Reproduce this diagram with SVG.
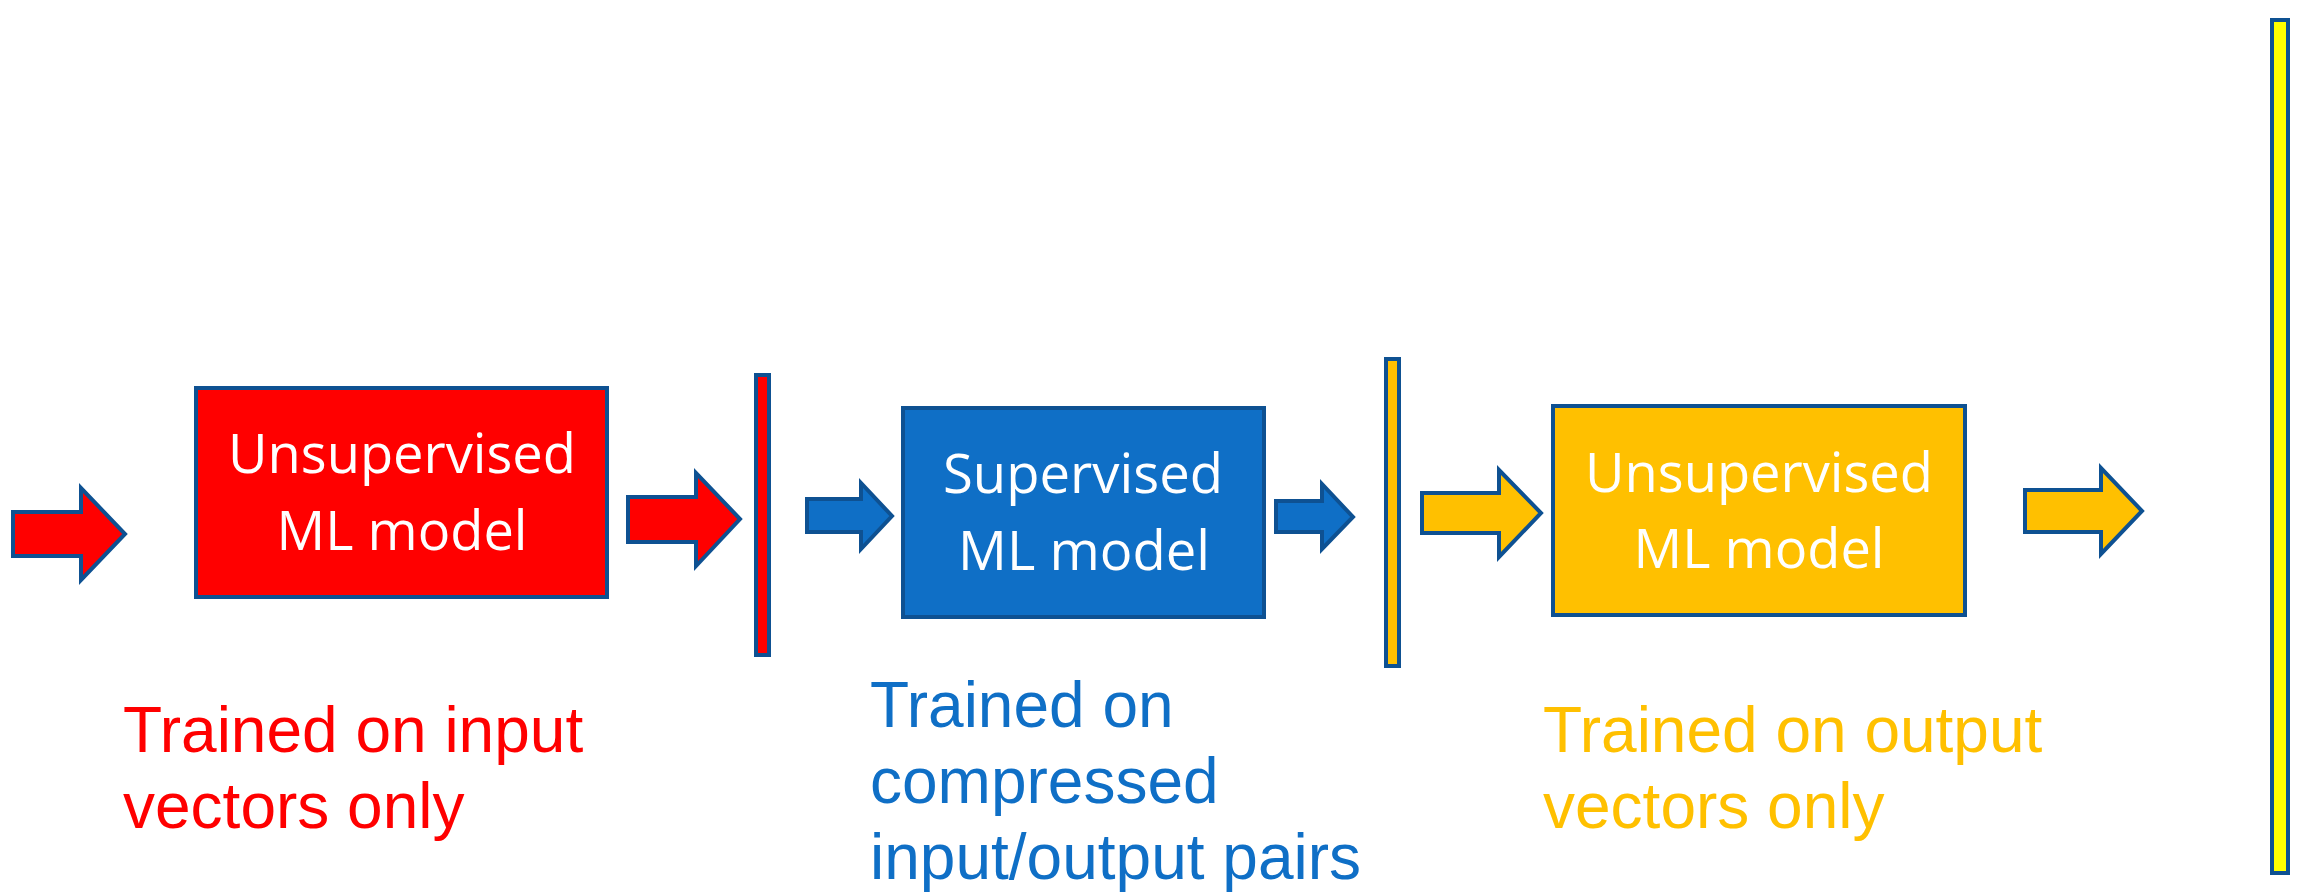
<svg xmlns="http://www.w3.org/2000/svg" width="2300" height="894" viewBox="0 0 2300 894">
  <style>
    .edge { stroke: #0E5192; stroke-width: 4; stroke-linejoin: miter; }
    .red { fill: #FF0000; }
    .blue { fill: #0F6FC6; }
    .orange { fill: #FFC000; }
    .yellow { fill: #FFFF00; }
    .boxtext { font-family: "Open Sans", "Noto Sans", sans-serif; font-size: 55px; fill: #FFFFFF; text-anchor: middle; }
    .note { font-family: "Liberation Sans", Arial, sans-serif; font-size: 64px; }
  </style>
  <rect width="2300" height="894" fill="#FFFFFF"/>

  <!-- block arrows between stages -->
  <g id="connectors">
    <path class="edge red" d="M13,512 H81 V488 L125,534 L81,580 V556 H13 Z"/>
    <path class="edge red" d="M628,497 H696 V473 L740,519 L696,566 V542 H628 Z"/>
    <path class="edge blue" d="M807,499 H861 V483 L892,516 L861,549 V532 H807 Z"/>
    <path class="edge blue" d="M1276,501 H1322 V484 L1353,517 L1322,549 V532 H1276 Z"/>
    <path class="edge orange" d="M1422,493 H1499 V470 L1541,513 L1499,557 V533 H1422 Z"/>
    <path class="edge orange" d="M2025,490 H2101 V468 L2142,511 L2101,554 V532 H2025 Z"/>
  </g>

  <!-- stage 1: unsupervised model on inputs -->
  <g id="unsupervised-input">
    <rect class="edge red" x="196" y="388" width="411" height="209"/>
    <text class="boxtext" x="402" y="473" textLength="348" lengthAdjust="spacingAndGlyphs">Unsupervised</text>
    <text class="boxtext" x="402" y="550" textLength="251" lengthAdjust="spacingAndGlyphs">ML model</text>
  </g>

  <!-- compressed input vector -->
  <g id="compressed-input">
    <rect class="edge red" x="756" y="375" width="13" height="280"/>
  </g>

  <!-- stage 2: supervised model -->
  <g id="supervised">
    <rect class="edge blue" x="903" y="408" width="361" height="209"/>
    <text class="boxtext" x="1083" y="493" textLength="280" lengthAdjust="spacingAndGlyphs">Supervised</text>
    <text class="boxtext" x="1084" y="570" textLength="252" lengthAdjust="spacingAndGlyphs">ML model</text>
  </g>

  <!-- compressed output vector -->
  <g id="compressed-output">
    <rect class="edge orange" x="1386" y="359" width="13" height="307"/>
  </g>

  <!-- stage 3: unsupervised model on outputs -->
  <g id="unsupervised-output">
    <rect class="edge orange" x="1553" y="406" width="412" height="209"/>
    <text class="boxtext" x="1759" y="492" textLength="348" lengthAdjust="spacingAndGlyphs">Unsupervised</text>
    <text class="boxtext" x="1759" y="568" textLength="251" lengthAdjust="spacingAndGlyphs">ML model</text>
  </g>

  <!-- full output vector -->
  <g id="output-vector">
    <rect class="edge yellow" x="2272" y="20" width="16" height="853"/>
  </g>

  <!-- training notes -->
  <g id="note-input">
    <text class="note" fill="#FF0000" x="123" y="752">Trained on input</text>
    <text class="note" fill="#FF0000" x="123" y="828">vectors only</text>
  </g>
  <g id="note-pairs">
    <text class="note" fill="#0F6FC6" x="870" y="727">Trained on</text>
    <text class="note" fill="#0F6FC6" x="870" y="803">compressed</text>
    <text class="note" fill="#0F6FC6" x="870" y="879">input/output pairs</text>
  </g>
  <g id="note-output">
    <text class="note" fill="#FFC000" x="1543" y="752">Trained on output</text>
    <text class="note" fill="#FFC000" x="1543" y="828">vectors only</text>
  </g>
</svg>
